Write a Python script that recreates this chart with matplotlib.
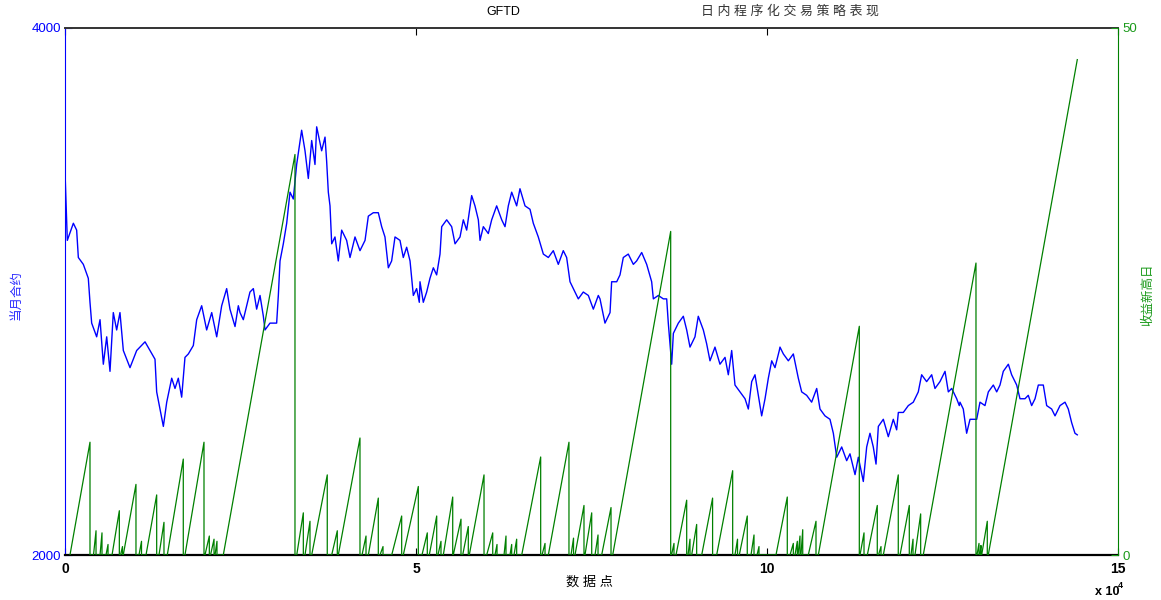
import matplotlib
matplotlib.use('Agg')
import matplotlib.pyplot as plt
import numpy as np

plt.rcParams['font.family'] = ['Liberation Sans', 'Noto Sans CJK SC', 'DejaVu Sans']

# ---- data (x positions in units of 10^4 data points) ----
price_x = [0.000, 0.033, 0.119, 0.166, 0.190, 0.261, 0.332, 0.356, 0.380, 0.451, 0.499, 0.546, 0.594,
           0.641, 0.688, 0.736, 0.783, 0.831, 0.926, 1.021, 1.140, 1.211, 1.282, 1.306, 1.353, 1.401,
           1.449, 1.520, 1.567, 1.614, 1.662, 1.709, 1.757, 1.828, 1.876, 1.947, 2.018, 2.090, 2.161,
           2.232, 2.303, 2.350, 2.422, 2.469,
           2.493, 2.540, 2.635, 2.683, 2.730, 2.778, 2.825, 2.849, 2.920, 3.015, 3.039, 3.063, 3.110,
           3.158, 3.205, 3.252, 3.300, 3.371, 3.419, 3.466, 3.514, 3.561, 3.585, 3.656, 3.704, 3.727,
           3.751, 3.775, 3.799, 3.846, 3.893, 3.941, 4.012, 4.060, 4.131, 4.202, 4.274, 4.321, 4.392,
           4.463, 4.511, 4.558, 4.606, 4.653, 4.701, 4.772, 4.819, 4.867, 4.915, 4.962, 5.009, 5.047,
           5.057, 5.104, 5.152, 5.199, 5.247, 5.294, 5.342, 5.366, 5.437, 5.508, 5.556, 5.627, 5.674,
           5.722, 5.793, 5.840, 5.888, 5.912, 5.959, 6.030, 6.078, 6.149, 6.221, 6.268, 6.315, 6.363,
           6.434, 6.481, 6.553, 6.624, 6.671, 6.742, 6.814, 6.885, 6.956, 7.027, 7.098, 7.146, 7.194,
           7.265, 7.312, 7.383, 7.455, 7.526, 7.597,
           7.621, 7.692, 7.764, 7.787, 7.859, 7.906, 7.953, 8.024, 8.096, 8.143, 8.215, 8.286, 8.357,
           8.381, 8.452, 8.523, 8.571, 8.594, 8.642, 8.666, 8.737, 8.808, 8.856, 8.903, 8.974, 9.021,
           9.093, 9.140, 9.188, 9.259, 9.330, 9.402, 9.449, 9.497, 9.544, 9.615, 9.687, 9.734, 9.782,
           9.829, 9.876, 9.924, 9.972, 10.019, 10.067, 10.114, 10.175,
           10.185, 10.233, 10.304, 10.375, 10.446, 10.494, 10.565, 10.636, 10.708, 10.755, 10.826,
           10.897, 10.945, 10.993, 11.064, 11.135, 11.182, 11.254, 11.301, 11.372, 11.420, 11.467,
           11.514, 11.553, 11.586, 11.657, 11.728, 11.799, 11.847, 11.871, 11.942, 12.013, 12.084,
           12.155, 12.203, 12.274, 12.346, 12.393, 12.464, 12.536, 12.583, 12.631, 12.702, 12.739,
           12.749, 12.796, 12.844, 12.892, 12.939, 12.987, 13.034, 13.105, 13.153, 13.224, 13.272,
           13.319, 13.366, 13.438, 13.485, 13.557, 13.604, 13.675, 13.722, 13.770, 13.818, 13.865,
           13.936, 13.984, 14.055, 14.103, 14.174, 14.245, 14.292, 14.340, 14.387, 14.420]
price = [3455, 3194, 3259, 3233, 3129, 3103, 3050, 2959, 2880, 2828, 2893, 2724, 2828,
         2697, 2920, 2854, 2920, 2776, 2711, 2776, 2809, 2776, 2743, 2619, 2554, 2488,
         2580, 2671, 2632, 2671, 2599, 2750, 2763, 2795, 2893, 2946, 2854, 2920, 2828,
         2946, 3011, 2933, 2867, 2946,
         2920, 2893, 2998, 3011, 2933, 2985, 2907, 2854, 2880, 2880, 2985, 3116, 3181,
         3259, 3377, 3351, 3482, 3612, 3534, 3429, 3573, 3482, 3625, 3534, 3586, 3495,
         3377, 3325, 3181, 3207, 3116, 3233, 3194, 3129, 3207, 3155, 3194, 3286, 3299,
         3299, 3246, 3207, 3090, 3116, 3207, 3194, 3129, 3168, 3116, 2985, 3011, 2959,
         3037, 2959, 2998, 3050, 3090, 3063, 3142, 3246, 3272, 3246, 3181, 3207, 3272,
         3233, 3364, 3325, 3272, 3194, 3246, 3220, 3272, 3325, 3272, 3246, 3325, 3377,
         3325, 3390, 3325, 3312, 3259, 3207, 3142, 3129, 3155, 3103, 3155, 3129, 3037,
         2998, 2972, 2998, 2985, 2933, 2985,
         2972, 2880, 2920, 3037, 3037, 3063, 3129, 3142, 3103, 3116, 3148, 3103, 3037,
         2972, 2985, 2972, 2972, 2880, 2724, 2841, 2880, 2906, 2854, 2789, 2828, 2906,
         2854, 2802, 2737, 2789, 2724, 2750, 2684, 2776, 2645, 2619, 2593, 2554, 2658,
         2684, 2606, 2528, 2593, 2671, 2737, 2711, 2776,
         2789, 2763, 2737, 2763, 2671, 2619, 2606, 2580, 2632, 2554, 2528,
         2515, 2462, 2371, 2410, 2358, 2384, 2305, 2371, 2279, 2410, 2462,
         2410, 2345, 2488, 2515, 2449, 2515, 2475, 2541, 2541, 2567, 2580,
         2619, 2684, 2658, 2684, 2632, 2658, 2697, 2619, 2632, 2593, 2567,
         2580, 2554, 2462, 2515, 2515, 2515, 2580, 2567, 2619, 2645, 2619,
         2645, 2697, 2724, 2684, 2645, 2593, 2593, 2606, 2567, 2593, 2645,
         2645, 2567, 2554, 2528, 2567, 2580, 2554, 2502, 2462, 2456]

# days since last new equity high: each run climbs from 0 at ramp_start to ramp_peak at ramp_end
ramp_start = [0.071, 0.406, 0.499, 0.584, 0.670, 0.791, 0.830, 1.054, 1.154, 1.339, 1.457, 1.709,
              1.994, 2.073, 2.137, 2.255, 3.301, 3.419, 3.514, 3.799, 3.893, 4.231, 4.321, 4.487,
              4.654, 4.819, 5.085, 5.189, 5.313, 5.389, 5.531, 5.665, 5.759, 6.007, 6.125, 6.254,
              6.339, 6.396, 6.506, 6.795, 6.885, 7.208, 7.265, 7.407, 7.550, 7.645, 7.802, 8.640,
              8.704, 8.875, 8.927, 9.070, 9.283, 9.544, 9.605, 9.772, 9.858, 10.128, 10.328, 10.399,
              10.442, 10.484, 10.588, 10.731, 11.325, 11.429, 11.588, 11.657, 11.895, 12.051, 12.108,
              12.226, 12.991, 13.034, 13.058, 13.152]
ramp_end = [0.356, 0.442, 0.527, 0.613, 0.774, 0.819, 1.011, 1.090, 1.306, 1.410, 1.685, 1.980,
            2.056, 2.123, 2.165, 3.276, 3.395, 3.490, 3.736, 3.879, 4.202, 4.288, 4.463, 4.530,
            4.796, 5.033, 5.161, 5.295, 5.356, 5.523, 5.641, 5.745, 5.969, 6.093, 6.154, 6.282,
            6.363, 6.434, 6.776, 6.838, 7.179, 7.244, 7.393, 7.503, 7.593, 7.778, 8.628, 8.675,
            8.856, 8.903, 8.998, 9.225, 9.511, 9.580, 9.719, 9.815, 9.886, 10.289, 10.375, 10.432,
            10.470, 10.509, 10.698, 11.315, 11.382, 11.571, 11.624, 11.870, 12.027, 12.080, 12.189,
            12.977, 13.020, 13.048, 13.138, 14.420]
ramp_peak = [10.7, 2.3, 2.1, 1.0, 4.2, 0.8, 6.7, 1.3, 5.7, 3.1, 9.1, 10.7,
             1.8, 1.5, 1.3, 38.0, 4.0, 3.2, 7.6, 2.3, 11.1, 1.8, 5.4, 0.8,
             3.7, 6.5, 2.1, 3.7, 1.3, 5.5, 3.4, 2.7, 7.6, 2.1, 1.0, 1.8,
             1.0, 1.5, 9.3, 1.1, 10.7, 1.6, 4.7, 4.0, 1.9, 4.5, 30.7, 1.1,
             5.2, 1.5, 2.9, 5.4, 8.0, 1.5, 3.7, 1.9, 0.8, 5.5, 1.1, 1.3,
             1.8, 2.4, 3.2, 21.7, 2.1, 4.7, 0.8, 7.6, 4.7, 1.5, 3.9,
             27.7, 1.1, 0.9, 3.2, 47.0]

x_ticks = [0, 5, 10, 15]
x_tick_labels = ['0', '5', '10', '15']
left_ticks = [2000, 4000]
right_ticks = [0, 50]
X_UNIT = 1e4

# ---- figure ----
W, H = 1161, 600
fig = plt.figure(figsize=(W / 100, H / 100), dpi=100)
ax1 = fig.add_axes([65 / W, 1 - 555 / H, (1118 - 65) / W, (555 - 28) / H])
ax2 = ax1.twinx()

BLUE = '#0000ff'
GREEN = '#008000'

ax1.plot(np.array(price_x) * X_UNIT, price, color=BLUE, lw=1.0)

gx, gy = [], []
n = len(ramp_start)
for i, (s, e, p) in enumerate(zip(ramp_start, ramp_end, ramp_peak)):
    gx += [s, e]
    gy += [0, p]
    if i < n - 1:
        gx.append(e)
        gy.append(0)
ax2.plot(np.array(gx) * X_UNIT, gy, color=GREEN, lw=0.9)

ax1.set_xlim(0, 15 * X_UNIT)
ax1.set_ylim(2000, 4000)
ax2.set_ylim(0, 50)

ax1.set_xticks(np.array(x_ticks) * X_UNIT)
ax1.set_xticklabels(x_tick_labels, fontsize=10, fontweight='bold')
ax1.tick_params(axis='x', direction='in', top=True, length=5, width=0.8, pad=5, colors='black')
ax1.set_yticks(left_ticks)
ax1.set_yticklabels([str(v) for v in left_ticks], fontsize=9.5)
ax1.tick_params(axis='y', direction='in', length=5, width=0.8, pad=3, colors=BLUE)
ax2.set_yticks(right_ticks)
ax2.set_yticklabels([str(v) for v in right_ticks], fontsize=9.5)
ax2.tick_params(axis='y', direction='in', length=5, width=0.8, pad=3, colors='#1a9a1a')

for a in (ax1, ax2):
    a.spines['top'].set_visible(False)
    a.spines['bottom'].set_visible(False)
ax1.spines['top'].set_visible(True)
ax1.spines['top'].set_color('#333333')
ax1.spines['top'].set_linewidth(1.4)
ax1.spines['bottom'].set_visible(True)
ax1.spines['bottom'].set_color('black')
ax1.spines['bottom'].set_linewidth(1.6)
ax1.spines['left'].set_color(BLUE)
ax1.spines['right'].set_visible(False)
ax2.spines['left'].set_visible(False)
ax2.spines['right'].set_color(GREEN)

def ft(x, y, s, **kw):
    fig.text(x / W, 1 - y / H, s, **kw)

ft(503, 12, 'GFTD', ha='center', va='center', fontsize=9, color='black')
ft(790, 11, '日 内 程 序 化 交 易 策 略 表 现', ha='center', va='center', fontsize=9.3, color='#333333')
ft(16, 295, '当月合约', ha='center', va='center', rotation=90, fontsize=9, color='#2a2aff')
ft(1148, 295, '收益新高日', ha='center', va='center', rotation=90, fontsize=9, color='#1a9a1a')
ft(590, 582, '数 据 点', ha='center', va='center', fontsize=9.5, color='black')
ft(1107, 592, 'x 10', ha='center', va='center', fontsize=9, fontweight='bold', color='black')
ft(1120, 586, '4', ha='center', va='center', fontsize=6.5, fontweight='bold', color='black')

fig.savefig('out.png', dpi=100)
